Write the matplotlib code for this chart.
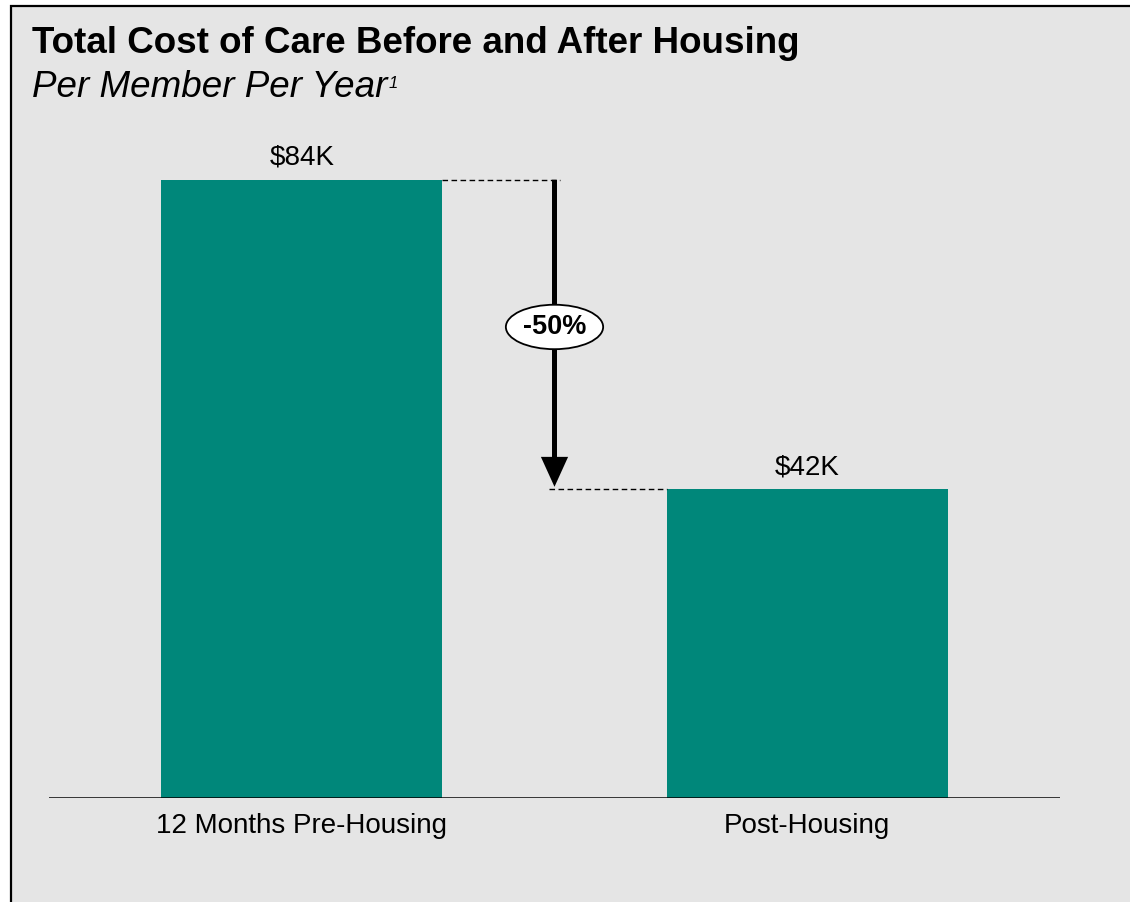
import matplotlib.pyplot as plt
from matplotlib.patches import Rectangle

plt.rcParams['font.family'] = ['Liberation Sans', 'DejaVu Sans']

categories = ['12 Months Pre-Housing', 'Post-Housing']
cost_k = [84, 42]
value_labels = ['$84K', '$42K']
change_label = '-50%'

teal = '#00877A'
panel_bg = '#E5E5E5'

fig = plt.figure(figsize=(11.3, 9.02), dpi=100)
fig.patch.set_facecolor('white')

# grey panel with a black frame (right and bottom edges run off the figure)
fig.patches.append(Rectangle((10.5 / 1130, -0.05), 1.2, 1 - 5.5 / 902 + 0.05,
                             transform=fig.transFigure, facecolor=panel_bg,
                             edgecolor='black', linewidth=1.6, zorder=-1))

fig.text(32 / 1130, 1 - 53 / 902, 'Total Cost of Care Before and After Housing',
         fontsize=26.5, fontweight='bold', ha='left', va='baseline')
sub = fig.text(32 / 1130, 1 - 97 / 902, 'Per Member Per Year',
               fontsize=26.5, fontstyle='italic', ha='left', va='baseline')

# small footnote marker right after the subtitle
bb = sub.get_window_extent(renderer=fig.canvas.get_renderer())
fig.text((bb.x1 + 1) / 1130, 1 - 88 / 902, '1', fontsize=12,
         fontstyle='italic', ha='left', va='baseline')

ax = fig.add_axes([49 / 1130, 104 / 902, 1011 / 1130, 736 / 902])
ax.set_facecolor('none')
ax.set_xlim(-0.5, 1.5)
ax.set_ylim(0, 100)

x = range(len(categories))
bar_w = 0.555
ax.bar(x, cost_k, width=bar_w, color=teal, zorder=2)

for xi, v, lab in zip(x, cost_k, value_labels):
    ax.text(xi, v + 1.2, lab, ha='center', va='bottom', fontsize=20)

ax.axhline(0, color='black', linewidth=1.8, zorder=3)

ax.set_xticks(list(x))
ax.set_xticklabels(categories, fontsize=20)
ax.tick_params(axis='x', length=0, pad=11)
ax.set_yticks([])
for s in ax.spines.values():
    s.set_visible(False)

# dashed guides from each bar top to the arrow
arrow_x = 0.5
ax.plot([bar_w / 2, arrow_x + 0.01], [cost_k[0], cost_k[0]], ls=(0, (4, 2.5)),
        color='black', lw=1.0)
ax.plot([arrow_x - 0.01, 1 - bar_w / 2], [cost_k[1], cost_k[1]], ls=(0, (4, 2.5)),
        color='black', lw=1.0)

ax.annotate('', xy=(arrow_x, cost_k[1]), xytext=(arrow_x, cost_k[0]),
            arrowprops=dict(arrowstyle='-|>,head_length=1.1,head_width=0.5',
                            color='black', lw=3.6, shrinkA=0, shrinkB=1.5,
                            mutation_scale=14, joinstyle='miter',
                            capstyle='butt'))

ax.text(arrow_x, (cost_k[0] + cost_k[1]) / 2 + 1.0, change_label, ha='center',
        va='center', fontsize=19.5, fontweight='bold', zorder=5,
        bbox=dict(boxstyle='ellipse,pad=0.1', facecolor='white',
                  edgecolor='black', linewidth=1.3))

fig.savefig('out.png', dpi=100)
